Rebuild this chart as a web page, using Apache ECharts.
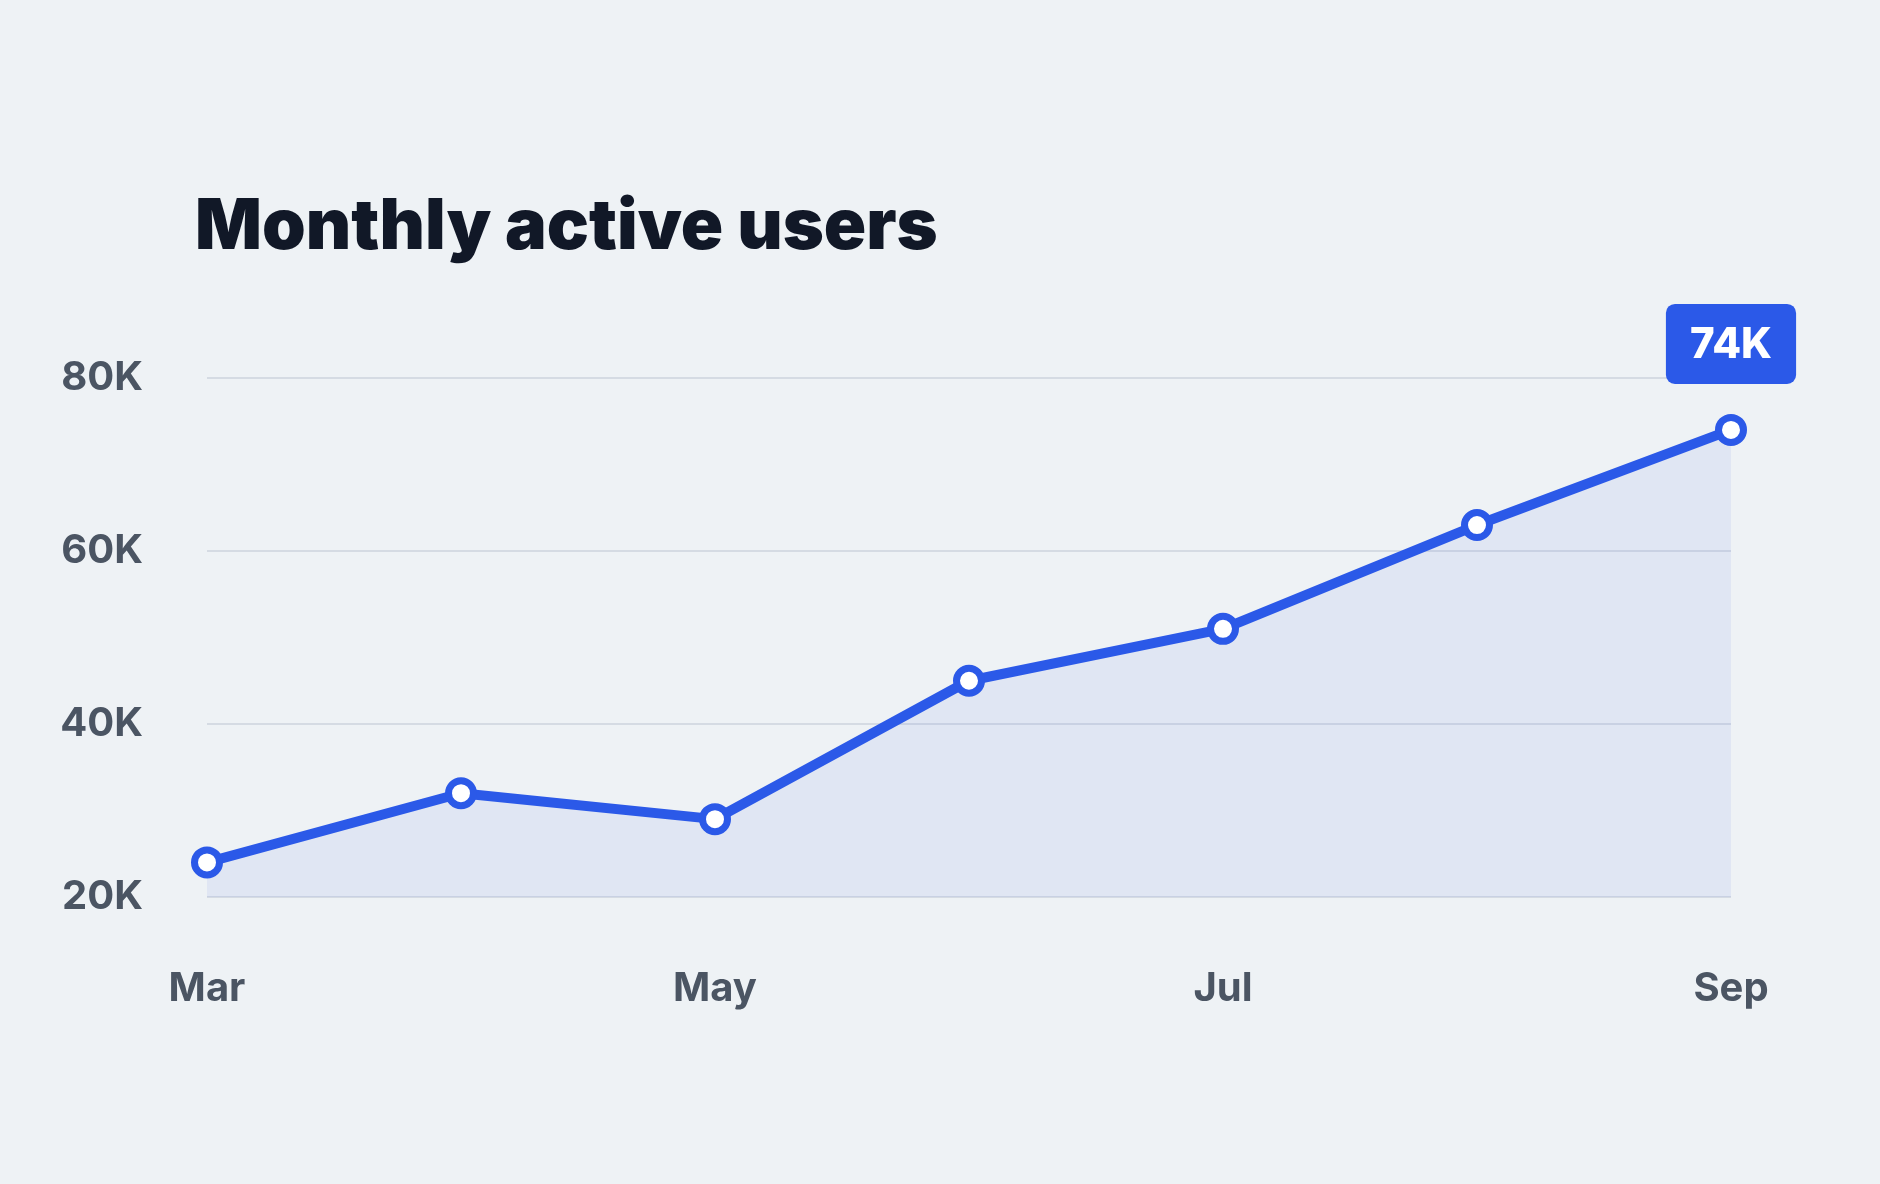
<!DOCTYPE html>
<html>
<head>
<meta charset="utf-8">
<script src="https://cdn.jsdelivr.net/npm/echarts@6/dist/echarts.min.js"></script>
<style>
  html, body { margin: 0; padding: 0; background: #eef2f5; }
  #chart { width: 1880px; height: 1184px; }
</style>
</head>
<body>
<div id="chart"></div>
<script>
const months = ["Mar", "Apr", "May", "Jun", "Jul", "Aug", "Sep"];
const users = [24000, 32000, 29000, 45000, 51000, 63000, 74000];
const yTicks = [20000, 40000, 60000, 80000];

const blue = "#2b59e8";
const chart = echarts.init(document.getElementById("chart"));

// only the last point gets the callout label
const seriesData = users.map((v, i) => {
  if (i !== users.length - 1) return v;
  return {
    value: v,
    label: {
      show: true,
      position: "top",
      distance: 30,
      formatter: (p) => Math.round(p.value / 1000) + "K",
      backgroundColor: blue,
      borderRadius: 9,
      padding: [20, 24, 18, 24],
      color: "#ffffff",
      fontFamily: "Inter",
      fontSize: 42,
      fontWeight: 800
    }
  };
});

chart.setOption({
  backgroundColor: "#eef2f5",
  title: {
    text: "Monthly active users",
    left: 190,
    top: 188,
    textStyle: {
      fontFamily: "Inter",
      fontSize: 70,
      fontWeight: 900,
      color: "#111827"
    }
  },
  grid: { left: 207, right: 149, top: 378, bottom: 287 },
  xAxis: {
    type: "category",
    data: months,
    boundaryGap: false,
    axisLine: { show: false },
    axisTick: { show: false },
    axisLabel: {
      interval: 1,
      margin: 72,
      fontFamily: "Inter",
      fontSize: 40,
      fontWeight: 700,
      color: "#4b5563"
    }
  },
  yAxis: {
    type: "value",
    min: yTicks[0],
    max: yTicks[yTicks.length - 1],
    interval: 20000,
    axisLine: { show: false },
    axisTick: { show: false },
    splitLine: { lineStyle: { color: "#cdd3dc", width: 1.5 } },
    axisLabel: {
      margin: 64,
      fontFamily: "Inter",
      fontSize: 40,
      fontWeight: 700,
      color: "#4b5563",
      formatter: (v) => v / 1000 + "K"
    }
  },
  series: [
    {
      type: "line",
      data: seriesData,
      lineStyle: { color: blue, width: 10 },
      areaStyle: { color: "rgba(43,89,232,0.10)" },
      symbol: "circle",
      symbolSize: 25,
      itemStyle: { color: "#ffffff", borderColor: blue, borderWidth: 7 },
      emphasis: { disabled: true }
    }
  ]
});
</script>
</body>
</html>
